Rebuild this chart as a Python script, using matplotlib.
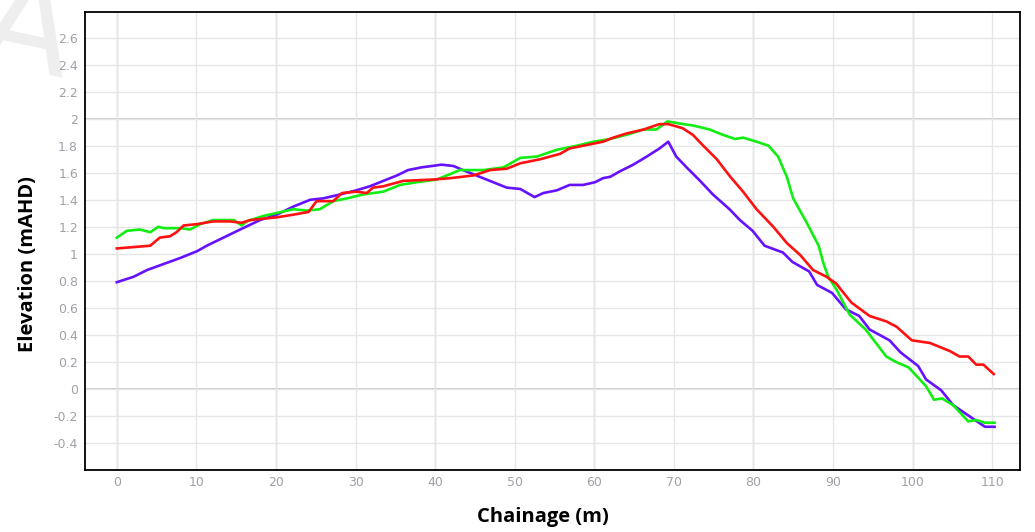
import matplotlib
matplotlib.use("Agg")
import matplotlib.pyplot as plt
from matplotlib.ticker import MultipleLocator

# Chainage (m) / elevation (mAHD)
blue_x = [0, 2.1, 3.8, 8.0, 10.1, 11.3, 13.4, 15.5, 18.0, 20.1, 22.2, 24.3, 25.9, 28.1,
          30.1, 31.8, 33.5, 35.2, 36.6, 38.3, 39.6, 40.8, 42.3, 43.5, 45.6, 47.3, 49.0,
          50.7, 52.5, 53.6, 55.3, 56.9, 58.6, 60.1, 61.1, 62.0, 63.2, 64.9, 66.6, 68.2,
          69.3, 70.3, 71.6, 73.3, 74.9, 77.0, 78.3, 79.9, 81.4, 83.7, 84.9, 87.0, 88.0,
          89.9, 91.6, 93.3, 94.6, 97.1, 98.5, 100.7, 101.7, 103.6, 105.1, 107.6, 109.1, 110.3]
blue_y = [0.79, 0.83, 0.88, 0.97, 1.02, 1.06, 1.12, 1.18, 1.25, 1.29, 1.35, 1.40, 1.41, 1.44,
          1.47, 1.50, 1.54, 1.58, 1.62, 1.64, 1.65, 1.66, 1.65, 1.62, 1.57, 1.53, 1.49,
          1.48, 1.42, 1.45, 1.47, 1.51, 1.51, 1.53, 1.56, 1.57, 1.61, 1.66, 1.72, 1.78,
          1.83, 1.72, 1.64, 1.54, 1.44, 1.33, 1.25, 1.17, 1.06, 1.01, 0.94, 0.87, 0.77,
          0.71, 0.59, 0.54, 0.44, 0.36, 0.27, 0.17, 0.07, -0.01, -0.12, -0.22, -0.28, -0.28]

red_x = [0, 2.1, 4.2, 5.4, 6.7, 7.5, 8.4, 10.1, 12.1, 14.2, 15.7, 16.8, 18.4, 20.1, 22.2,
         24.1, 25.1, 27.2, 28.3, 30.1, 31.4, 32.2, 33.5, 36.0, 39.8, 41.9, 44.8, 46.9,
         49.0, 50.7, 53.2, 55.7, 56.9, 58.6, 61.1, 62.4, 64.0, 66.2, 68.2, 69.3, 71.1,
         72.4, 73.7, 75.4, 77.1, 78.7, 80.4, 82.5, 84.2, 85.9, 87.5, 89.2, 90.4, 92.3,
         94.6, 96.7, 98.0, 99.9, 102.2, 104.7, 105.9, 107.0, 108.0, 108.9, 110.2]
red_y = [1.04, 1.05, 1.06, 1.12, 1.13, 1.16, 1.21, 1.22, 1.24, 1.24, 1.23, 1.25, 1.26, 1.27, 1.29,
         1.31, 1.39, 1.39, 1.45, 1.46, 1.45, 1.49, 1.50, 1.54, 1.55, 1.56, 1.58, 1.62,
         1.63, 1.67, 1.70, 1.74, 1.78, 1.80, 1.83, 1.86, 1.89, 1.92, 1.96, 1.96, 1.93,
         1.88, 1.80, 1.70, 1.57, 1.46, 1.33, 1.20, 1.08, 0.99, 0.88, 0.83, 0.78, 0.64,
         0.54, 0.50, 0.46, 0.36, 0.34, 0.28, 0.24, 0.24, 0.18, 0.18, 0.11]

green_x = [0, 1.25, 2.9, 4.2, 5.2, 5.9, 8.0, 9.2, 10.5, 12.1, 13.8, 14.7, 15.7, 16.3, 18.4,
           22.2, 23.9, 25.5, 27.2, 28.9, 31.0, 33.5, 35.6, 37.7, 40.2, 41.9, 43.1, 46.1,
           48.6, 50.7, 52.8, 55.3, 57.8, 59.9, 62.0, 64.0, 66.2, 67.8, 69.2, 71.2, 72.4,
           74.5, 76.2, 77.7, 78.7, 80.4, 81.9, 83.1, 84.2, 85.0, 86.7, 88.2, 88.8, 89.4,
           90.4, 92.1, 94.1, 96.7, 97.9, 99.5, 101.7, 102.7, 103.7, 105.1, 107.0, 108.0,
           109.1, 110.3]
green_y = [1.12, 1.17, 1.18, 1.16, 1.20, 1.19, 1.19, 1.18, 1.22, 1.25, 1.25, 1.25, 1.21, 1.24, 1.28,
           1.33, 1.32, 1.33, 1.39, 1.41, 1.44, 1.46, 1.51, 1.53, 1.55, 1.59, 1.62, 1.62,
           1.64, 1.71, 1.72, 1.77, 1.80, 1.83, 1.85, 1.88, 1.92, 1.92, 1.98, 1.96, 1.95,
           1.92, 1.88, 1.85, 1.86, 1.83, 1.80, 1.72, 1.57, 1.41, 1.23, 1.06, 0.93, 0.83,
           0.74, 0.55, 0.44, 0.24, 0.20, 0.16, 0.02, -0.08, -0.07, -0.12, -0.24, -0.23,
           -0.25, -0.25]

y_ticks = [v / 10 for v in range(-4, 27, 2)]

fig = plt.figure(figsize=(10.35, 5.32), dpi=100)

# faint watermark letter in the top-left corner, behind everything
fig.text(0.026, 0.935, "A", fontsize=95, color="#eeeeee", rotation=-12,
         ha="center", va="center", zorder=-5)

ax = fig.add_axes([0.0821, 0.1165, 0.9034, 0.861])
ax.patch.set_alpha(0)

ax.plot(blue_x, blue_y, color="#6611ff", linewidth=1.9, zorder=3)
ax.plot(green_x, green_y, color="#11ee11", linewidth=1.9, zorder=4)
ax.plot(red_x, red_y, color="#ff1111", linewidth=1.9, zorder=5)

ax.set_xlim(-4, 113.5)
ax.set_ylim(-0.6, 2.79)
ax.xaxis.set_major_locator(MultipleLocator(10))
ax.set_yticks(y_ticks)
ax.set_yticklabels(["%g" % v for v in y_ticks])

ax.grid(True, color="#e6e6e6", linewidth=1.0, zorder=0)
for xv in range(0, 111, 20):
    ax.axvline(xv, color="#d0d0d0", linewidth=1.0, zorder=1)
for yv in [0, 2]:
    ax.axhline(yv, color="#c4c4c4", linewidth=1.2, zorder=1)

ax.tick_params(length=0, labelsize=9, labelcolor="#a0a0a8")
ax.tick_params(axis="y", pad=5)
ax.tick_params(axis="x", pad=4)
for s in ax.spines.values():
    s.set_color("black")
    s.set_linewidth(1.3)

ax.set_xlabel("Chainage (m)", fontsize=14.5, fontweight="bold", family="Open Sans", va="center")
ax.xaxis.set_label_coords(0.490, -0.103)
ax.set_ylabel("Elevation (mAHD)", fontsize=14.5, fontweight="bold", family="Open Sans", va="center")
ax.yaxis.set_label_coords(-0.061, 0.45)

fig.savefig("out.png", dpi=100)
